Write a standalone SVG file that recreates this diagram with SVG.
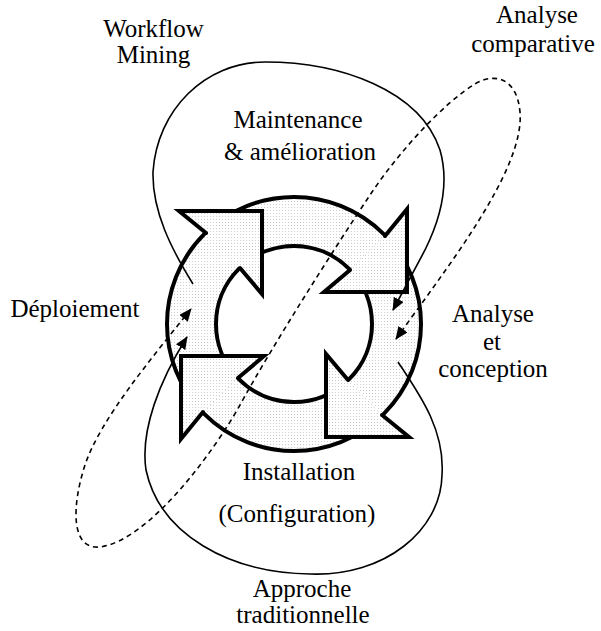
<svg xmlns="http://www.w3.org/2000/svg" width="601" height="631" viewBox="0 0 601 631">
  <defs>
    <!-- light halftone used inside the cycle ring and arrowheads -->
    <pattern id="stipple" width="3" height="3" patternUnits="userSpaceOnUse">
      <rect width="3" height="3" fill="#fff"/>
      <rect width="1" height="1" fill="#cdcdcd"/>
    </pattern>
    <marker id="tip" viewBox="0 0 13 11" refX="12" refY="5.5" markerUnits="userSpaceOnUse" markerWidth="13" markerHeight="11" orient="auto-start-reverse">
      <path d="M0,0 L13,5.5 L0,11 Z" fill="#000"/>
    </marker>
    <!-- one arrowhead of the cycle, drawn at the upper-left position around the ring centre -->
    <path id="headFill" d="M-88,-91 L-115,-113 L-32,-113 L-32,-30 L-54,-56 Z"/>
    <path id="headLine" d="M-88,-91 L-115,-113 L-32,-113 L-32,-30 L-54,-56"/>
  </defs>
  <style>
    .lbl { font-size: 25px; fill: #000; text-anchor: middle; }
    .ring { fill: none; stroke: #000; stroke-width: 4; }
    .hfill { fill: url(#stipple); stroke: none; }
    .hline { fill: none; stroke: #000; stroke-width: 4; stroke-linejoin: miter; stroke-linecap: round; }
    .loop { fill: none; stroke: #000; stroke-width: 1.6; }
    .dash { fill: none; stroke: #000; stroke-width: 1.6; stroke-dasharray: 5 4; }
  </style>

  <rect width="601" height="631" fill="#fff"/>

  <!-- life-cycle ring: annulus with four clockwise arrowheads -->
  <g id="cycle">
    <path d="M294,197 A127,127 0 1,1 294,451 A127,127 0 1,1 294,197 Z M294,246 A78,78 0 1,0 294,402 A78,78 0 1,0 294,246 Z" fill="url(#stipple)" fill-rule="evenodd"/>
    <circle class="ring" cx="294" cy="324" r="127"/>
    <circle class="ring" cx="294" cy="324" r="78"/>
    <g transform="translate(294,324)">
      <use href="#headFill" class="hfill"/>
      <use href="#headLine" class="hline"/>
    </g>
    <g transform="translate(294,324) rotate(90)">
      <use href="#headFill" class="hfill"/>
      <use href="#headLine" class="hline"/>
    </g>
    <g transform="translate(294,324) rotate(180)">
      <use href="#headFill" class="hfill"/>
      <use href="#headLine" class="hline"/>
    </g>
    <g transform="translate(294,324) rotate(270)">
      <use href="#headFill" class="hfill"/>
      <use href="#headLine" class="hline"/>
    </g>
  </g>

  <!-- feedback loops -->
  <g id="connectors">
    <!-- Workflow Mining: from maintenance back into analysis -->
    <path class="loop" d="M193,284 C172,250 152,212 153,172 C157,110 205,62 265,62 C340,62 420,90 440,150 C450,185 440,220 425,250 L393,310" marker-end="url(#tip)"/>
    <!-- traditional approach: from analysis down round to deployment -->
    <path class="loop" d="M398,362 C420,395 445,430 442,475 C441,530 385,577 310,574 C230,573 160,535 146,470 C140,430 160,380 187,337" marker-end="url(#tip)"/>
    <!-- comparative analysis: long dashed loop through the cycle -->
    <path class="dash" d="M396,339 C445,270 525,170 520,112 C517,78 495,72 475,84 C445,102 400,150 370,195 C330,255 270,350 240,405 C215,450 150,540 100,547 C70,550 72,505 85,465 C100,420 150,360 191,309" marker-start="url(#tip)" marker-end="url(#tip)"/>
  </g>

  <!-- labels -->
  <g font-family="Liberation Serif, DejaVu Serif, serif">
    <g id="lbl-mining">
      <text class="lbl" x="153.5" y="37">Workflow</text>
      <text class="lbl" x="153.5" y="63">Mining</text>
    </g>
    <g id="lbl-comparative">
      <text class="lbl" x="537" y="23">Analyse</text>
      <text class="lbl" x="533" y="52">comparative</text>
    </g>
    <g id="lbl-maintenance">
      <text class="lbl" x="298" y="128">Maintenance</text>
      <text class="lbl" x="300" y="160">&amp; amélioration</text>
    </g>
    <g id="lbl-deployment">
      <text class="lbl" x="75" y="317">Déploiement</text>
    </g>
    <g id="lbl-analysis">
      <text class="lbl" x="493" y="322">Analyse</text>
      <text class="lbl" x="492" y="350">et</text>
      <text class="lbl" x="493" y="377">conception</text>
    </g>
    <g id="lbl-installation">
      <text class="lbl" x="299" y="480">Installation</text>
      <text class="lbl" x="297" y="522">(Configuration)</text>
    </g>
    <g id="lbl-traditional">
      <text class="lbl" x="302" y="597">Approche</text>
      <text class="lbl" x="303" y="623">traditionnelle</text>
    </g>
  </g>
</svg>
